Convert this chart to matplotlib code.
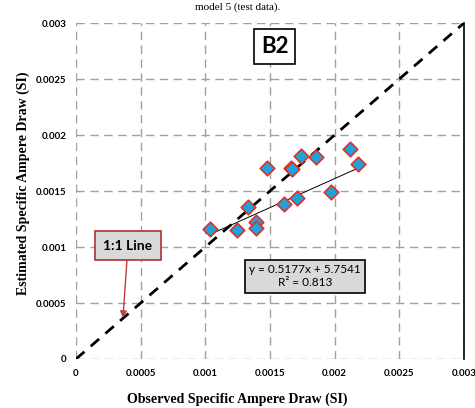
import matplotlib.pyplot as plt

# observed vs estimated specific ampere draw (SI)
observed = [0.001036, 0.001244, 0.00133, 0.00139, 0.00139, 0.001476, 0.001607,
            0.00166, 0.001668, 0.001708, 0.001739, 0.001855, 0.00197, 0.002117, 0.00218]
estimated = [0.00116, 0.00115, 0.001357, 0.00122, 0.00117, 0.001705, 0.001384,
             0.001705, 0.001695, 0.001437, 0.00181, 0.0018, 0.00149, 0.001875, 0.00174]
slope = 0.5177
intercept = 5.7541e-4
ticks = [0, 0.0005, 0.001, 0.0015, 0.002, 0.0025, 0.003]
tick_labels = ["0", "0.0005", "0.001", "0.0015", "0.002", "0.0025", "0.003"]

fig = plt.figure(figsize=(4.75, 4.08), dpi=100)
ax = fig.add_axes([0.16, 0.1201, 0.8168, 0.8235])

ax.set_xlim(0, 0.003)
ax.set_ylim(0, 0.003)
ax.set_xticks(ticks)
ax.set_yticks(ticks)
ax.set_xticklabels(tick_labels, family="Lato", fontsize=7, fontweight="bold")
ax.set_yticklabels(tick_labels, family="Lato", fontsize=7, fontweight="bold")
ax.tick_params(length=0, pad=7)
ax.grid(True, linestyle=(0, (6, 4)), color="#a0a0a0", linewidth=1.0)
for s in ["left", "bottom", "top"]:
    ax.spines[s].set_visible(False)
ax.spines["right"].set_color("black")
ax.spines["right"].set_linewidth(1.2)

# 1:1 line
ax.plot([0, 0.003], [0, 0.003], color="black", linestyle=(0, (4, 3)), linewidth=2, zorder=3)

# trend line
x0, x1 = min(observed), max(observed)
ax.plot([x0, x1], [slope * x0 + intercept, slope * x1 + intercept],
        color="black", linewidth=0.7, zorder=3)

ax.scatter(observed, estimated, marker="D", s=55, facecolor="#1fa3dc",
           edgecolor="#e0302a", linewidth=1.2, zorder=4)

ax.text(0.001538, 0.00279, "B2", fontsize=16, fontweight="bold", family="Lato",
        ha="center", va="center",
        bbox=dict(boxstyle="square,pad=0.3", facecolor="white", edgecolor="black", linewidth=1.2))

ax.text(0.00177, 0.00074, "y = 0.5177x + 5.7541\nR² = 0.813", fontsize=8.5, family="Lato",
        ha="center", va="center", linespacing=1.3,
        bbox=dict(boxstyle="square,pad=0.35", facecolor="#d9d9d9", edgecolor="black", linewidth=1.2))

ax.annotate("1:1 Line", xy=(0.000363, 0.000366), xytext=(0.000402, 0.001013),
            fontsize=10, fontweight="bold", family="Lato", ha="center", va="center",
            bbox=dict(boxstyle="square,pad=0.6", facecolor="#d9d9d9", edgecolor="#b03030", linewidth=1.2),
            arrowprops=dict(arrowstyle="-|>", color="#c04040", linewidth=1, shrinkA=0, shrinkB=0),
            zorder=5)

fig.text(0.5, 0.995, "model 5 (test data).", family="Liberation Serif", fontsize=8,
         ha="center", va="top")
fig.text(0.5, 0.005, "Observed Specific Ampere Draw (SI)", family="Liberation Serif", fontsize=10,
         fontweight="bold", ha="center", va="bottom")
fig.text(0.048, 0.55, "Estimated Specific Ampere Draw (SI)", family="Liberation Serif", fontsize=10,
         fontweight="bold", ha="center", va="center", rotation=90)

fig.savefig("out.png", dpi=100)
